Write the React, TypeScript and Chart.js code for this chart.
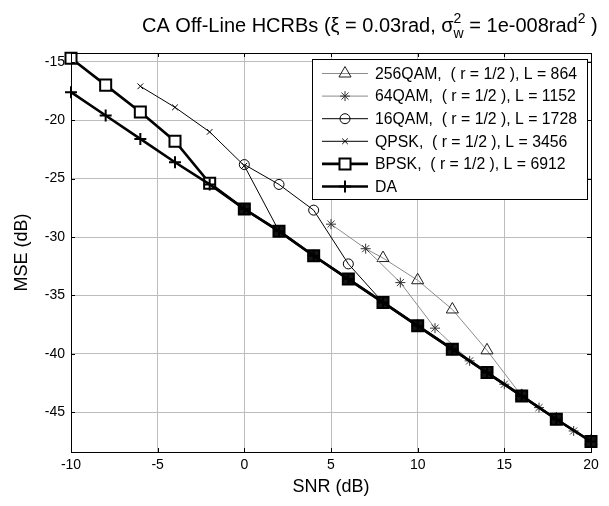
import React, { useEffect, useRef } from "react";
import { Chart, registerables } from "chart.js";
import { drawPoint } from "chart.js/helpers";

Chart.register(...registerables);

// ---------- data ----------
const SNR_EVEN = [-10, -8, -6, -4, -2, 0, 2, 4, 6, 8, 10, 12, 14, 16, 18, 20];
const BPSK = [-14.7, -17.0, -19.3, -21.8, -25.4, -27.6, -29.5, -31.6, -33.6, -35.6, -37.6, -39.6, -41.6, -43.6, -45.6, -47.5];
const DA = [-17.6, -19.6, -21.6, -23.6, -25.5, -27.6, -29.5, -31.6, -33.6, -35.6, -37.6, -39.6, -41.6, -43.6, -45.6, -47.5];

const QPSK_SNR = [-6, -4, -2, 0, 2, 4, 6, 8, 10, 12, 14, 16, 18, 20];
const QPSK = [-17.1, -18.9, -21.0, -23.9, -29.5, -31.6, -33.6, -35.6, -37.6, -39.6, -41.6, -43.6, -45.6, -47.5];

const QAM16_SNR = [0, 2, 4, 6, 8, 10, 12, 14, 16, 18, 20];
const QAM16 = [-23.8, -25.5, -27.7, -32.3, -35.6, -37.6, -39.6, -41.6, -43.6, -45.6, -47.5];

const QAM64_SNR = [5, 7, 9, 11, 13, 15, 17, 19];
const QAM64 = [-28.9, -31.0, -33.9, -37.8, -40.6, -42.6, -44.6, -46.6];

const QAM256_SNR = [7, 8, 10, 12, 14, 16, 18, 20];
const QAM256 = [-31.0, -31.8, -33.7, -36.2, -39.7, -43.6, -45.6, -47.5];

const X_TICKS = [-10, -5, 0, 5, 10, 15, 20];
const Y_TICKS = [-45, -40, -35, -30, -25, -20, -15];

const LABELS = [
  "256QAM,  ( r = 1/2 ), L = 864",
  "64QAM,  ( r = 1/2 ), L = 1152",
  "16QAM,  ( r = 1/2 ), L = 1728",
  "QPSK,  ( r = 1/2 ), L = 3456",
  "BPSK,  ( r = 1/2 ), L = 6912",
  "DA",
];

const FONT = "'Liberation Sans', Arial, Helvetica, sans-serif";

type Sty = {
  line: string;
  lw: number;
  marker: string;
  mcol: string;
  mfill: string;
  r: number;
  mw: number;
};

const STYLES: Sty[] = [
  { line: "#8c8c8c", lw: 1, marker: "triangle", mcol: "#1e1e1e", mfill: "rgba(0,0,0,0)", r: 7, mw: 1 },
  { line: "#8c8c8c", lw: 1, marker: "star", mcol: "#333333", mfill: "rgba(0,0,0,0)", r: 5, mw: 1 },
  { line: "#000000", lw: 1, marker: "circle", mcol: "#000000", mfill: "rgba(0,0,0,0)", r: 5, mw: 1 },
  { line: "#000000", lw: 1, marker: "crossRot", mcol: "#000000", mfill: "rgba(0,0,0,0)", r: 4, mw: 1 },
  { line: "#000000", lw: 2.6, marker: "rect", mcol: "#000000", mfill: "#ffffff", r: 7.8, mw: 2 },
  { line: "#000000", lw: 2.6, marker: "cross", mcol: "#000000", mfill: "rgba(0,0,0,0)", r: 6, mw: 2 },
];

const pts = (xs: number[], ys: number[]) => xs.map((x, i) => ({ x, y: ys[i] }));

const framePlugin = {
  id: "frame",
  beforeDraw(chart: any) {
    const ctx = chart.ctx;
    ctx.save();
    ctx.fillStyle = "#ffffff";
    ctx.fillRect(0, 0, chart.width, chart.height);
    ctx.restore();
  },
  afterDraw(chart: any) {
    const ctx: CanvasRenderingContext2D = chart.ctx;
    const a = chart.chartArea;
    const xs = chart.scales.x;
    const ys = chart.scales.y;
    ctx.save();
    // box
    ctx.strokeStyle = "#000";
    ctx.lineWidth = 1;
    ctx.strokeRect(Math.round(a.left) + 0.5, Math.round(a.top) + 0.5, Math.round(a.right - a.left), Math.round(a.bottom - a.top));
    // inner ticks
    const tl = 4;
    ctx.beginPath();
    X_TICKS.forEach((v) => {
      const px = Math.round(xs.getPixelForValue(v)) + 0.5;
      ctx.moveTo(px, a.bottom);
      ctx.lineTo(px, a.bottom - tl);
      ctx.moveTo(px, a.top);
      ctx.lineTo(px, a.top + tl);
    });
    Y_TICKS.forEach((v) => {
      const py = Math.round(ys.getPixelForValue(v)) + 0.5;
      ctx.moveTo(a.left, py);
      ctx.lineTo(a.left + tl, py);
      ctx.moveTo(a.right, py);
      ctx.lineTo(a.right - tl, py);
    });
    ctx.stroke();

    // axis titles
    ctx.fillStyle = "#000";
    ctx.font = `18px ${FONT}`;
    ctx.textAlign = "center";
    ctx.textBaseline = "middle";
    ctx.fillText("SNR (dB)", (a.left + a.right) / 2, 487);
    ctx.save();
    ctx.translate(22, (a.top + a.bottom) / 2);
    ctx.rotate(-Math.PI / 2);
    ctx.fillText("MSE (dB)", 0, 0);
    ctx.restore();

    // title with sub/superscripts
    const big = `20px ${FONT}`;
    const small = `14px ${FONT}`;
    const base = 32;
    ctx.textAlign = "left";
    ctx.textBaseline = "alphabetic";
    const parts: { t: string; f: string; dy: number; stack?: string }[] = [
      { t: "CA Off-Line HCRBs (\u03BE = 0.03rad, \u03C3", f: big, dy: 0 },
      { t: "2", f: small, dy: -9, stack: "w" },
      { t: " = 1e-008rad", f: big, dy: 0 },
      { t: "2", f: small, dy: -9 },
      { t: " )", f: big, dy: 0 },
    ];
    let x = 142;
    parts.forEach((p) => {
      ctx.font = p.f;
      ctx.fillText(p.t, x, base + p.dy);
      let w = ctx.measureText(p.t).width;
      if (p.stack) {
        ctx.fillText(p.stack, x, base + 6);
        w = Math.max(w, ctx.measureText(p.stack).width);
      }
      x += w;
    });

    // legend
    const lx = 312, ly = 59, lw = 275, lh = 140;
    ctx.fillStyle = "#fff";
    ctx.fillRect(lx, ly, lw, lh);
    ctx.strokeStyle = "#000";
    ctx.lineWidth = 1;
    ctx.strokeRect(lx + 0.5, ly + 0.5, lw, lh);
    ctx.font = `15.8px ${FONT}`;
    ctx.textBaseline = "middle";
    LABELS.forEach((lab, i) => {
      const s = STYLES[i];
      const y = 73.5 + i * 22.6;
      ctx.strokeStyle = s.line;
      ctx.lineWidth = s.lw;
      ctx.beginPath();
      ctx.moveTo(322, y);
      ctx.lineTo(368, y);
      ctx.stroke();
      ctx.strokeStyle = s.mcol;
      ctx.fillStyle = s.mfill;
      ctx.lineWidth = s.mw;
      drawPoint(ctx, { pointStyle: s.marker as any, rotation: 0, radius: s.r, borderWidth: s.mw }, 345, y);
      ctx.fillStyle = "#000";
      ctx.fillText(lab, 375, y + 1);
    });
    ctx.restore();
  },
};

export default function App() {
  const ref = useRef<HTMLCanvasElement>(null);
  useEffect(() => {
    document.body.style.margin = "0";
    const canvas = ref.current;
    if (!canvas) return;
    const series = [
      pts(QAM256_SNR, QAM256),
      pts(QAM64_SNR, QAM64),
      pts(QAM16_SNR, QAM16),
      pts(QPSK_SNR, QPSK),
      pts(SNR_EVEN, BPSK),
      pts(SNR_EVEN, DA),
    ];
    const datasets = series.map((data, i) => {
      const s = STYLES[i];
      return {
        label: LABELS[i],
        data,
        borderColor: s.line,
        borderWidth: s.lw,
        pointStyle: s.marker,
        pointRadius: i === 0 ? (c: any) => (c.dataIndex === 0 ? 0 : s.r) : s.r,
        pointBorderColor: s.mcol,
        pointBorderWidth: s.mw,
        pointBackgroundColor: i === 4 ? (c: any) => (c.raw && c.raw.x >= 0 ? "#141414" : "#ffffff") : s.mfill,
        pointHoverRadius: s.r,
        tension: 0,
        fill: false,
        clip: false as any,
        order: 5 - i,
      };
    });
    const chart = new Chart(canvas, {
      type: "line",
      data: { datasets: datasets as any },
      options: {
        animation: false,
        responsive: false,
        events: [],
        layout: { padding: { top: 53, right: 18, left: 0, bottom: 0 } },
        plugins: { legend: { display: false }, tooltip: { enabled: false }, title: { display: false } },
        scales: {
          x: {
            type: "linear",
            min: -10,
            max: 20,
            afterBuildTicks: (sc: any) => {
              sc.ticks = X_TICKS.map((v) => ({ value: v }));
            },
            afterFit: (sc: any) => {
              sc.height = 54;
            },
            ticks: { font: { family: FONT, size: 14 }, color: "#000", padding: 5, maxRotation: 0, autoSkip: false },
            grid: { color: "#bdbdbd", lineWidth: 1, drawTicks: false },
            border: { display: false },
          },
          y: {
            type: "linear",
            min: -48.4,
            max: -14.25,
            afterBuildTicks: (sc: any) => {
              sc.ticks = Y_TICKS.map((v) => ({ value: v }));
            },
            afterFit: (sc: any) => {
              sc.width = 71;
            },
            ticks: { font: { family: FONT, size: 14 }, color: "#000", padding: 6, autoSkip: false },
            grid: { color: "#bdbdbd", lineWidth: 1, drawTicks: false },
            border: { display: false },
          },
        },
      },
      plugins: [framePlugin],
    });
    return () => chart.destroy();
  }, []);
  return (
    <div style={{ width: 609, height: 506 }}>
      <canvas ref={ref} width={609} height={506} style={{ display: "block" }} />
    </div>
  );
}
